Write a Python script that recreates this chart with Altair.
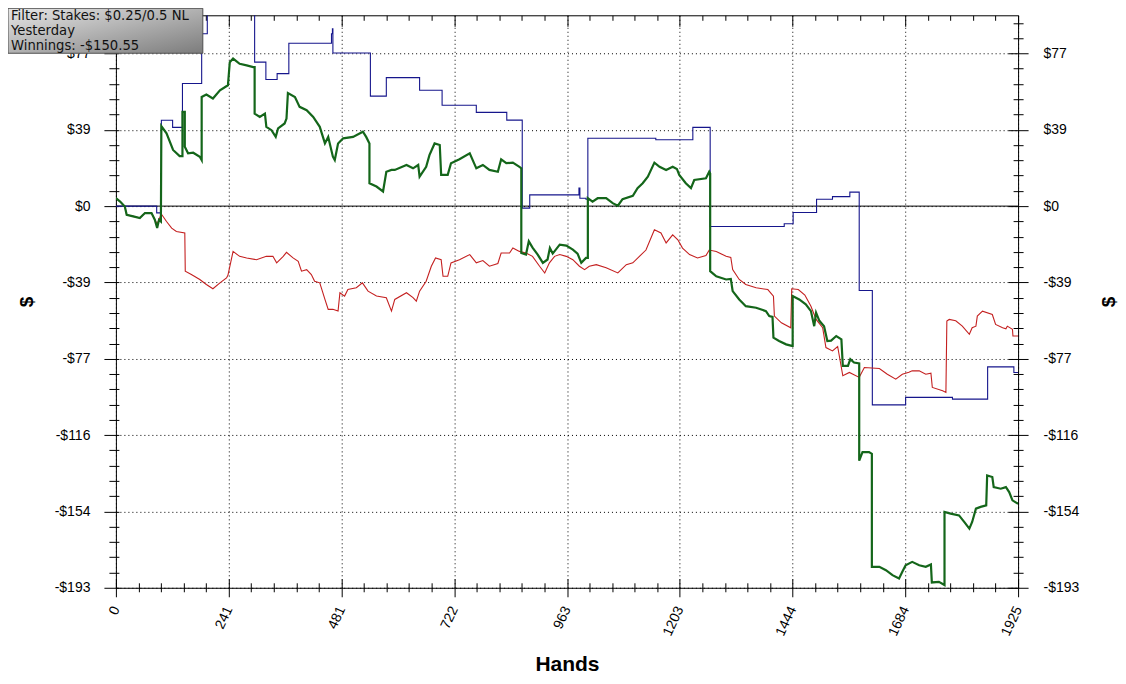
import altair as alt
import pandas as pd

# ---------------- data ----------------
GREEN_H = [0, 9, 19, 23, 37, 51, 62, 76, 83, 88, 92, 96, 97, 108, 122, 136, 142, 142, 147, 147,
           154, 165, 179, 183, 183, 193, 207, 222, 239, 243, 250, 264, 279, 293, 296, 296, 307, 318,
           321, 332, 341, 346, 360, 364, 367, 382, 392, 407, 421, 435, 446, 453, 463, 467, 474, 485,
           506, 527, 534, 541, 541, 556, 570, 577, 588, 595, 620, 634, 645, 648, 662, 669, 680, 691,
           694, 708, 715, 733, 755, 769, 783, 797, 815, 822, 833, 847, 861, 865, 865, 875, 881, 889,
           900, 911, 921, 926, 932, 947, 961, 975, 985, 993, 1003, 1007, 1007, 1017, 1028, 1046,
           1060, 1071, 1081, 1103, 1113, 1124, 1135, 1149, 1160, 1174, 1188, 1197, 1202, 1216, 1227,
           1234, 1259, 1266, 1268, 1268, 1281, 1302, 1312, 1316, 1330, 1344, 1366, 1387, 1394, 1401,
           1403, 1415, 1430, 1442, 1444, 1444, 1458, 1472, 1483, 1490, 1494, 1501, 1511, 1518, 1526,
           1537, 1548, 1551, 1562, 1567, 1575, 1586, 1586, 1593, 1607, 1613, 1613, 1629, 1643, 1657,
           1671, 1678, 1685, 1699, 1714, 1728, 1739, 1741, 1756, 1768, 1768, 1781, 1799, 1810, 1821,
           1827, 1835, 1845, 1857, 1859, 1870, 1873, 1888, 1899, 1906, 1913, 1925]
GREEN_V = [4, 2.3, -0.2, -4.4, -5.2, -6, -3.5, -3.5, -6.9, -11.1, -6.9, -7.8, 40.4, 36.8, 28.4, 25.3,
           25.3, 47.7, 47.7, 30, 26.7, 27, 25, 23.3, 55.2, 56.4, 54.4, 58.6, 61.1, 72.8, 74.6, 72,
           71.2, 70.3, 70.3, 46.8, 45.1, 46.8, 40.1, 38.4, 35, 39.3, 41.8, 44.3, 57.2, 55.2, 50.2,
           48.5, 45.1, 40.1, 31.7, 35, 25, 23.3, 31.7, 34.3, 35, 37.6, 35, 31.7, 11.6, 9.9, 7.4, 17.4,
           18.3, 18.3, 20.8, 19.1, 20.8, 14.9, 19.9, 25.8, 31.7, 30.9, 15.8, 15.8, 21.7, 23.7, 26.7,
           19.1, 20.8, 18.3, 17.4, 23.7, 21.7, 22, 19.9, 19.1, -23.7, -24.5, -17.8, -21, -24.5, -28.7,
           -27, -21.2, -24, -19.5, -20, -22, -24, -28.7, -26.2, -26.2, 4, 2.3, 4, 4, 1.5, 0.2, 3.5,
           5.2, 9.1, 11.6, 14.9, 22, 19.9, 18.3, 19.9, 18.8, 15.8, 11.6, 9.1, 13.2, 14.1, 17.4, 16.5,
           -32.9, -35.5, -37.1, -36.8, -43, -47.2, -50.6, -51.4, -53.1, -55.6, -56, -66.5, -68.2,
           -69.9, -70.7, -70.7, -45.5, -47.2, -49.7, -53.1, -60.7, -53.9, -58, -60.7, -68.2, -68,
           -65.7, -67.4, -80.8, -80.8, -77.4, -79.1, -79.6, -128.7, -124.4, -124.4, -125.3, -182.4,
           -182.4, -184.1, -186.6, -188.3, -184.9, -181.6, -179.9, -181.6, -182.4, -181.2, -190.3,
           -190, -191.6, -154.7, -155.5, -156.4, -159.7, -163.1, -159.7, -153, -152.1, -151.3,
           -136.2, -137, -142.1, -142.9, -142.1, -144.6, -148.8, -150.5]

RED_H = [0, 9, 19, 23, 37, 51, 62, 76, 83, 88, 97, 108, 119, 129, 147, 148, 161, 179, 193, 207,
         222, 236, 239, 250, 264, 279, 300, 321, 335, 343, 357, 364, 378, 389, 396, 407, 417, 424,
         435, 446, 453, 463, 474, 478, 488, 495, 513, 526, 538, 556, 577, 588, 595, 620, 634, 641,
         648, 662, 673, 682, 694, 698, 708, 715, 733, 755, 769, 783, 797, 815, 822, 840, 847, 861,
         875, 889, 904, 915, 925, 936, 947, 961, 975, 989, 1000, 1010, 1025, 1046, 1071, 1089,
         1103, 1117, 1131, 1149, 1163, 1174, 1188, 1199, 1209, 1224, 1241, 1259, 1266, 1281, 1302,
         1312, 1316, 1330, 1344, 1366, 1391, 1403, 1405, 1420, 1440, 1442, 1456, 1470, 1483, 1494,
         1508, 1515, 1529, 1540, 1551, 1565, 1586, 1597, 1629, 1646, 1664, 1678, 1692, 1699, 1714,
         1728, 1739, 1742, 1764, 1771, 1773, 1778, 1792, 1806, 1821, 1827, 1835, 1838, 1849, 1870,
         1877, 1892, 1899, 1902, 1913, 1914, 1925]
RED_V = [4, 2.3, -0.2, -4.4, -5.2, -6, -3.5, -3.5, -6.9, -9, -4, -7.8, -11.1, -12.8, -13.6, -32.9,
         -34.6, -37.1, -39.6, -41.8, -38.8, -36.3, -35, -22.9, -25.4, -26.2, -27.1, -25.4, -25.4,
         -28.7, -25.4, -23.4, -26.2, -27.9, -32.9, -32.1, -34.6, -38, -38.8, -47.2, -52.2, -52.2,
         -53.1, -43.8, -45.5, -42.2, -41.3, -38.8, -43, -45.5, -46.3, -53.1, -47.2, -43.8, -46.3,
         -48.1, -43, -38, -30.4, -26.2, -27.1, -35.5, -35.5, -28.7, -27.1, -24.5, -28.7, -27.5,
         -30.4, -29, -23.7, -23.7, -21.2, -22.9, -23.7, -25.4, -30.4, -33.8, -28.7, -25.4, -24.5,
         -25.4, -27.1, -30.4, -32.1, -30.4, -29.6, -31.2, -33.8, -29.6, -28.7, -25.4, -22.2, -12,
         -13.6, -18.6, -14.5, -17, -21.2, -24.5, -26.2, -25, -22.2, -22.9, -25.4, -26, -32.1,
         -37.1, -39.6, -41.3, -42.2, -45.5, -55.6, -59, -61.5, -41.8, -42.2, -45, -50.6, -57.3,
         -61.5, -71.5, -73.2, -71, -85.8, -84.1, -86.6, -81.6, -82.1, -85, -87.5, -85, -84, -83.3,
         -83.3, -85, -84.5, -91.7, -93.4, -94.2, -58.1, -57.3, -58, -60.7, -64.8, -61.5, -60.7,
         -55.6, -53.1, -54.8, -59.8, -61.5, -62, -60.7, -62.3, -65.7, -65.7]

BLUE_H = [0, 87, 97, 121, 142, 183, 195, 296, 320, 344, 369, 460, 462, 463, 543, 577, 648, 696,
          769, 834, 867, 883, 988, 990, 1003, 1007, 1152, 1231, 1268, 1426, 1445, 1495, 1529, 1566,
          1586, 1614, 1685, 1785, 1860, 1916, 1925]
BLUE_V = [0, -3.4, 43.4, 39.8, 62, 87.2, 100, 72.8, 64, 67, 82.4, 87.2, 89.7, 77.4, 55.6, 65,
          58.6, 51, 47.4, 43.5, -1, 5.7, 9.1, 4, 3.5, 34.3, 33.6, 39.8, -10.3, -8.9, -3.2, 3.5, 4.8,
          7.1, -42.7, -100.5, -96.7, -97.6, -81.3, -84.1, -84.1]

X_DOMAIN = [0, 1925]
Y_DOMAIN = [-193, 96.5]
X_TICKS = [0, 240.625, 481.25, 721.875, 962.5, 1203.125, 1443.75, 1684.375, 1925]
X_TICK_LABELS = ["0", "241", "481", "722", "963", "1203", "1444", "1684", "1925"]
Y_TICKS = [-193, -154.4, -115.8, -77.2, -38.6, 0, 38.6, 77.2]
Y_TICK_LABELS = ["-$193", "-$154", "-$116", "-$77", "-$39", "$0", "$39", "$77"]
X_MINOR = [round(i * 48.125, 3) for i in range(41) if i % 5]
Y_MINOR = [round(-193 + i * 7.72, 2) for i in range(38) if i % 5]
BOX_LINES = ["Filter: Stakes: $0.25/0.5 NL", "Yesterday", "Winnings: -$150.55"]

FONT = "Liberation Sans"


def label_expr(vals, labels):
    s = "''"
    for v, l in reversed(list(zip(vals, labels))):
        s = f"abs(datum.value - ({v})) < 0.01 ? '{l}' : " + s
    return s


xs = alt.Scale(domain=X_DOMAIN, nice=False, zero=False)
ys = alt.Scale(domain=Y_DOMAIN, nice=False, zero=False)

grid_kw = dict(grid=True, gridColor="black", gridDash=[1, 3], gridOpacity=1, gridWidth=1)
common = dict(domain=False, tickColor="black", tickWidth=1, labelFont=FONT, labelFontSize=14,
              labelColor="black", titleFont=FONT, titleColor="black")

ax_x_major = alt.Axis(orient="bottom", values=X_TICKS, labelExpr=label_expr(X_TICKS, X_TICK_LABELS),
                      labelAngle=295, labelAlign="right", labelBaseline="middle", labelPadding=10,
                      tickSize=18, offset=-9, title="Hands", titleFontSize=21,
                      titleFontWeight="bold", titlePadding=16, labelFlush=False,
                      labelOverlap=False, **grid_kw, **common)
ax_y_left_major = alt.Axis(orient="left", values=Y_TICKS, labelExpr=label_expr(Y_TICKS, Y_TICK_LABELS),
                           tickSize=15, offset=-3, labelPadding=14, title="$", titleFontSize=19,
                           titleFontWeight="bold", titleAngle=270, titlePadding=18,
                           labelOverlap=False, **grid_kw, **common)
ax_x_minor = alt.Axis(orient="bottom", values=X_MINOR, labels=False, tickSize=9, offset=-5,
                      grid=False, title=None, **common)
ax_y_left_minor = alt.Axis(orient="left", values=Y_MINOR, labels=False, tickSize=10, offset=-3,
                           grid=False, title=None, **common)
ax_x_top_major = alt.Axis(orient="top", values=X_TICKS, labels=False, tickSize=11, offset=-11,
                          grid=False, title=None, **common)
ax_y_right_major = alt.Axis(orient="right", values=Y_TICKS, labelExpr=label_expr(Y_TICKS, Y_TICK_LABELS),
                            tickSize=20, offset=-10, labelPadding=15, title="$", titleFontSize=19,
                            titleFontWeight="bold", titleAngle=270, titlePadding=40,
                            labelOverlap=False, grid=False, **common)
ax_x_top_minor = alt.Axis(orient="top", values=X_MINOR, labels=False, tickSize=5, offset=-5,
                          grid=False, title=None, **common)
ax_y_right_minor = alt.Axis(orient="right", values=Y_MINOR, labels=False, tickSize=10, offset=-5,
                            grid=False, title=None, **common)


def frame(h, v):
    return pd.DataFrame({"hand": h, "usd": v, "i": list(range(len(h)))})


zero = alt.Chart(pd.DataFrame({"x0": [X_DOMAIN[0]], "x1": [X_DOMAIN[1]], "y": [0]})).mark_rule(
    color="black", strokeWidth=1
).encode(
    x=alt.X("x0:Q", scale=xs, axis=ax_x_major),
    x2="x1:Q",
    y=alt.Y("y:Q", scale=ys, axis=ax_y_left_major),
)

blue = alt.Chart(frame(BLUE_H, BLUE_V)).mark_line(
    color="#16168c", strokeWidth=1.1, interpolate="step-after", clip=True
).encode(
    x=alt.X("hand:Q", scale=xs, axis=ax_x_top_minor),
    y=alt.Y("usd:Q", scale=ys, axis=ax_y_right_minor),
    order="i:Q",
)

red = alt.Chart(frame(RED_H, RED_V)).mark_line(
    color="#c42020", strokeWidth=1.1, clip=True
).encode(
    x=alt.X("hand:Q", scale=xs, axis=ax_x_top_major),
    y=alt.Y("usd:Q", scale=ys, axis=ax_y_right_major),
    order="i:Q",
)

green = alt.Chart(frame(GREEN_H, GREEN_V)).mark_line(
    color="#14661a", strokeWidth=2.2, clip=True
).encode(
    x=alt.X("hand:Q", scale=xs, axis=ax_x_minor),
    y=alt.Y("usd:Q", scale=ys, axis=ax_y_left_minor),
    order="i:Q",
)

box = alt.Chart(pd.DataFrame({"k": [0]})).mark_rect(
    stroke="#505050", strokeWidth=1,
    fill=alt.Gradient(
        gradient="linear", x1=0, y1=0, x2=1, y2=1,
        stops=[alt.GradientStop(color="#e6e6e6", offset=0),
               alt.GradientStop(color="#acacac", offset=0.55),
               alt.GradientStop(color="#7c7c7c", offset=1)],
    ),
).encode(x=alt.value(-108), x2=alt.value(87), y=alt.value(-7), y2=alt.value(38))

box_text = alt.Chart(pd.DataFrame({"k": [0]})).mark_text(
    align="left", baseline="middle", font="DejaVu Sans", fontSize=13.2, lineHeight=15,
    color="#111111"
).encode(x=alt.value(-105), y=alt.value(1), text=alt.value(BOX_LINES))

chart = alt.layer(zero, blue, red, green, box, box_text).resolve_axis(
    x="independent", y="independent"
).properties(
    width=903, height=573,
    autosize=alt.AutoSizeParams(type="none"),
    padding={"left": 108, "top": 7, "right": 100, "bottom": 88},
    background="white",
).configure_view(stroke="black", strokeWidth=1)

chart.save("out.html", embed_options={"renderer": "svg", "actions": False})
